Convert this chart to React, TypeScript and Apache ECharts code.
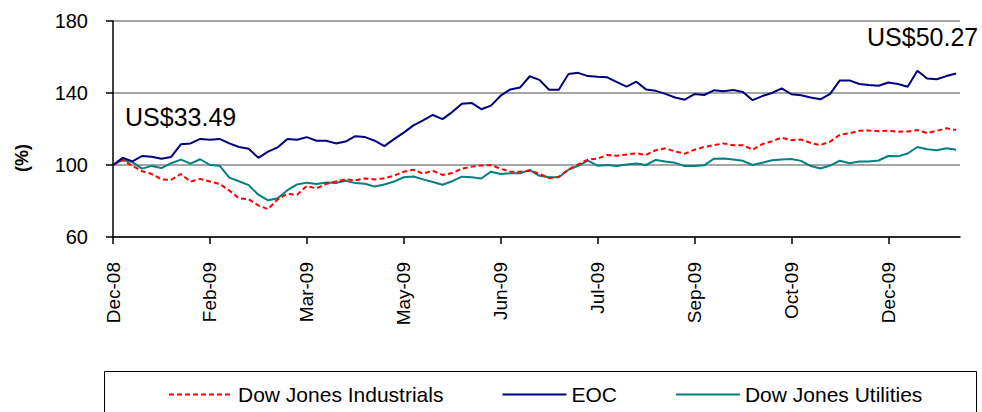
import React, { useEffect, useRef } from "react";
import * as echarts from "echarts";

// Month labels shown under every 10th sample of the rebased series
const tickLabels = ["Dec-08", "Feb-09", "Mar-09", "May-09", "Jun-09", "Jul-09", "Sep-09", "Oct-09", "Dec-09"];
const samplesPerTick = 10;
const lastSample = 87.4;

// Performance rebased to 100 at the start (%)
const dowIndustrials = [
  100, 102.8, 99.5, 96.5, 95, 92, 91.8, 95, 90.8, 92.3,
  90.8, 89.5, 85.8, 81.5, 81, 77.5, 75.5, 81, 84, 83.5,
  88.3, 87, 89.5, 90.8, 92, 91.5, 92.5, 92, 92.6, 94,
  96.3, 97.4, 95.2, 96.8, 94.5, 95.5, 98, 99.1, 99.7, 100,
  97.9, 96.3, 96.3, 96.8, 95.2, 92.7, 93.5, 97.5, 100.3, 103,
  103.5, 105.6, 105.2, 105.8, 106.5, 105.6, 108.2, 109.3, 107.5, 106.3,
  108.5, 110, 111, 112, 111, 111, 108.5, 111.6, 113.2, 115.2,
  113.8, 114.2, 112.2, 111.1, 113, 116.8, 117.6, 119, 119.2, 118.8,
  119, 118.5, 118.6, 119.4, 117.7, 119, 120.4, 119.5,
];

const eoc = [
  100, 104, 102, 105, 104.6, 103.5, 104.5, 111.5, 112, 114.5,
  114, 114.5, 112, 110, 109, 104, 107.4, 109.8, 114.5, 114,
  115.5, 113.5, 113.5, 112, 113, 116, 115.5, 113.5, 110.5, 114.4,
  118, 122, 124.8, 127.8, 125.5, 129.4, 134, 134.5, 131, 133,
  138.5, 142, 143, 149.3, 147.3, 141.8, 141.8, 150.6, 151.2, 149.4,
  149, 148.7, 146, 143.5, 146.3, 142, 141.2, 139.5, 137.5, 136.3,
  139.4, 138.9, 141.5, 141, 141.7, 140.5, 136, 138.3, 140, 142.6,
  139.3, 138.7, 137.5, 136.5, 139.5, 147, 147, 145, 144.4, 144,
  145.8, 145, 143.5, 152.4, 148, 147.6, 149.4, 150.8,
];

const dowUtilities = [
  100, 102.8, 101.6, 98, 99.5, 98.3, 101, 103, 100.8, 103.2,
  100, 99.6, 93, 91, 88.8, 83.5, 80.4, 81.5, 86, 89.2,
  90.2, 89.5, 90.3, 90, 91.3, 90, 89.6, 88, 89.2, 90.8,
  93.2, 93.6, 92, 90.6, 89, 91, 93.5, 93.2, 92.5, 96.3,
  95, 95.4, 95.4, 97.3, 94, 93.2, 93.2, 97.4, 99.5, 102.4,
  99.6, 100, 99.5, 100.3, 100.8, 100, 102.8, 101.9, 101.2, 99.4,
  99.5, 99.8, 103.5, 103.6, 103, 102.3, 100, 101.3, 102.6, 103,
  103.3, 102.3, 99.4, 98.1, 99.7, 102.4, 101, 102, 102, 102.5,
  105, 104.8, 106.4, 110, 108.8, 108.2, 109.3, 108.5,
];

const startPrice = "US$33.49";
const endPrice = "US$50.27";
const yAxisTitle = "(%)";

const FONT = "'Liberation Sans', Arial, sans-serif";

const toPairs = (values: number[]) => values.map((v, i) => [i, v]);

export default function App() {
  const ref = useRef<HTMLDivElement>(null);

  useEffect(() => {
    if (!ref.current) return;
    const chart = echarts.init(ref.current, undefined, { renderer: "svg" });
    const tickValues = tickLabels.map((_, k) => k * samplesPerTick);

    chart.setOption({
      animation: false,
      backgroundColor: "#ffffff",
      textStyle: { fontFamily: FONT },
      grid: { left: 113, right: 22, top: 21, bottom: 175, containLabel: false },
      xAxis: {
        type: "value",
        min: 0,
        max: lastSample,
        axisLine: { show: true, onZero: false, lineStyle: { color: "#000", width: 1.5 } },
        axisTick: { show: true, length: 7, customValues: tickValues, lineStyle: { color: "#000", width: 1.5 } },
        axisLabel: {
          customValues: tickValues,
          rotate: 90,
          margin: 25,
          fontSize: 19,
          color: "#000",
          fontFamily: FONT,
          formatter: (v: number) => tickLabels[Math.round(v / samplesPerTick)] ?? "",
        },
        splitLine: { show: false },
      },
      yAxis: {
        type: "value",
        min: 60,
        max: 180,
        interval: 40,
        axisLine: { show: true, lineStyle: { color: "#000", width: 1.5 } },
        axisTick: { show: true, length: 7, lineStyle: { color: "#000", width: 1.5 } },
        axisLabel: { margin: 25, fontSize: 20, color: "#000", fontFamily: FONT },
        splitLine: { show: true, lineStyle: { color: "#a6a6a6", width: 2 } },
      },
      legend: {
        data: ["Dow Jones Industrials", "EOC", "Dow Jones Utilities"],
        top: 379,
        left: 163,
        itemWidth: 64,
        itemHeight: 12,
        itemGap: 58,
        itemStyle: { opacity: 0 },
        textStyle: { fontSize: 21, color: "#000", fontFamily: FONT },
      },
      series: [
        {
          name: "Dow Jones Industrials",
          type: "line",
          data: toPairs(dowIndustrials),
          symbol: "none",
          lineStyle: { color: "#ff0000", width: 2, type: [5, 3] },
          itemStyle: { color: "#ff0000" },
          z: 3,
        },
        {
          name: "EOC",
          type: "line",
          data: toPairs(eoc),
          symbol: "none",
          lineStyle: { color: "#000080", width: 2 },
          itemStyle: { color: "#000080" },
          z: 4,
        },
        {
          name: "Dow Jones Utilities",
          type: "line",
          data: toPairs(dowUtilities),
          symbol: "none",
          lineStyle: { color: "#008080", width: 2 },
          itemStyle: { color: "#008080" },
          z: 2,
        },
      ],
      graphic: [
        {
          type: "rect",
          z: 100,
          shape: { x: 104.5, y: 371.5, width: 872, height: 60 },
          style: { fill: "none", stroke: "#000", lineWidth: 1 },
        },
        {
          type: "text",
          z: 100,
          x: 22,
          y: 158,
          rotation: Math.PI / 2,
          style: {
            text: yAxisTitle,
            fontSize: 18,
            fontWeight: "bold",
            fontFamily: FONT,
            fill: "#000",
            align: "center",
            verticalAlign: "middle",
          },
        },
        {
          type: "text",
          z: 100,
          x: 125,
          y: 117,
          style: {
            text: startPrice,
            fontSize: 25,
            fontFamily: FONT,
            fill: "#000",
            verticalAlign: "middle",
          },
        },
        {
          type: "text",
          z: 100,
          x: 863,
          y: 37,
          style: {
            text: endPrice,
            fontSize: 25,
            fontFamily: FONT,
            fill: "#000",
            verticalAlign: "middle",
            backgroundColor: "#ffffff",
            padding: [2, 2, 2, 4],
          },
        },
      ],
    });

    return () => chart.dispose();
  }, []);

  return (
    <div
      ref={ref}
      style={{ position: "fixed", left: 0, top: 0, width: 982, height: 412 }}
    />
  );
}
